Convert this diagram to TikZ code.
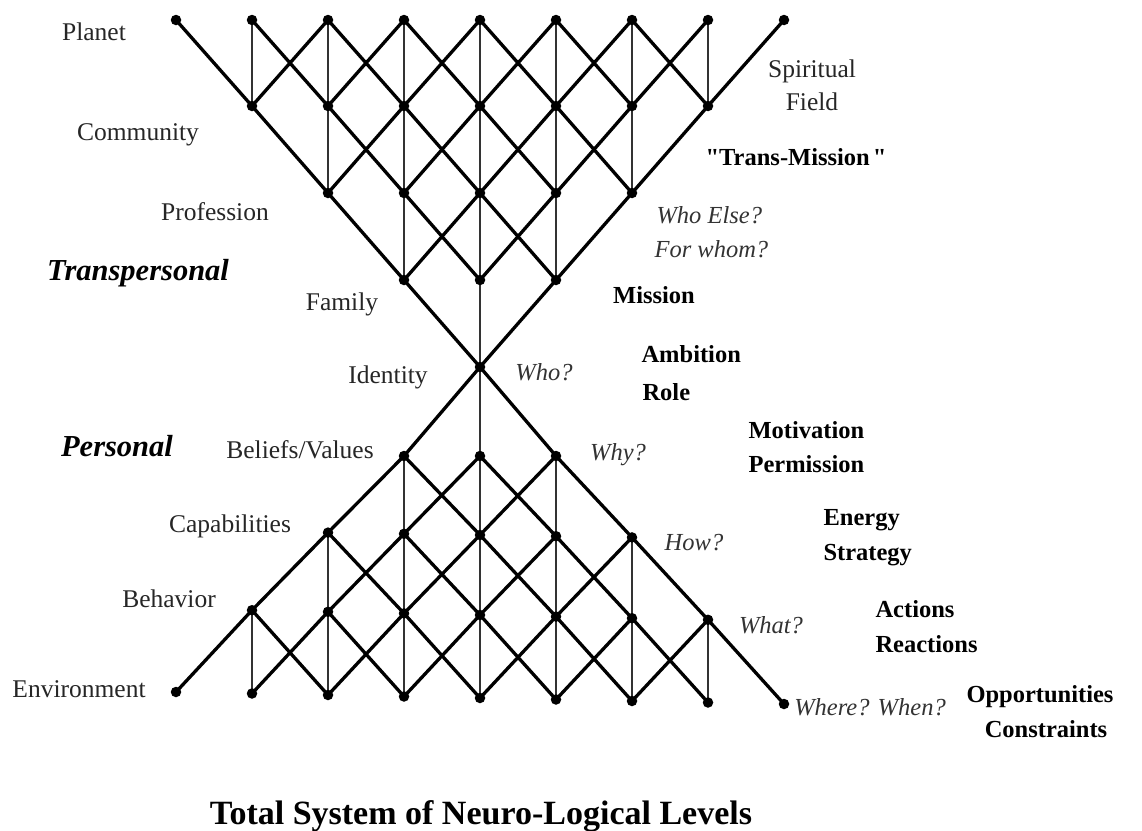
\documentclass[tikz,border=0pt]{standalone}
\usepackage{fontspec}
\setmainfont{Liberation Serif}
\pgfdeclarelayer{bg}
\pgfsetlayers{bg,main}
% straight double quote, bypassing the TeX quote mapping
\newcommand\straightdq{\XeTeXglyph\XeTeXcharglyph"22 }
\begin{document}
\begin{tikzpicture}[x=1pt,y=-1pt,
  dot/.style={circle,fill=black,inner sep=0pt,minimum size=10.5pt},
  diag/.style={line width=3.3pt,black},
  vert/.style={line width=2pt,black!80},
  lbl/.style={font=\fontsize{25.5}{30}\selectfont,text=black!85,anchor=base},
  qst/.style={font=\fontsize{24.5}{30}\selectfont\itshape,text=black!80,anchor=base},
  key/.style={font=\fontsize{24.5}{30}\selectfont\bfseries,text=black,anchor=base},
  realm/.style={font=\fontsize{30.5}{34}\selectfont\bfseries\itshape,text=black,anchor=base},
  heading/.style={font=\fontsize{34}{40}\selectfont\bfseries,text=black,anchor=base},
]
\useasboundingbox (0,0) rectangle (1142,830);

% upper cone: level r holds positions r..8-r, level 4 is the waist
\foreach \r in {0,...,4} {
  \pgfmathtruncatemacro\lo{\r}
  \pgfmathtruncatemacro\hi{8-\r}
  \pgfmathsetmacro\yy{{20,106,193,280,367}[\r]}
  \foreach \p in {\lo,...,\hi}
    \node[dot] (u\p-\r) at ({176+76*\p},\yy) {};
}
\path (u4-4) coordinate (l4-4);

% lower cone: level s counted from the bottom, level 4 is the waist
\foreach \s in {0,...,3} {
  \pgfmathtruncatemacro\lo{\s}
  \pgfmathtruncatemacro\hi{8-\s}
  \pgfmathsetmacro\yb{{698,615,535,456}[\s]}
  \pgfmathsetmacro\kk{{1.5,1.6,1.2,0}[\s]}
  \foreach \p in {\lo,...,\hi}
    \node[dot] (l\p-\s) at ({176+76*\p},{\yb+\kk*(\p-4)}) {};
}

% lattice links, kept beneath the dots
\begin{pgfonlayer}{bg}
\fill[white] (0,0) rectangle (1142,830);
\foreach \r in {0,...,3} {
  \pgfmathtruncatemacro\lo{\r}
  \pgfmathtruncatemacro\hi{8-\r}
  \pgfmathtruncatemacro\nx{\r+1}
  \foreach \p in {\lo,...,\hi} {
    \pgfmathtruncatemacro\pl{\p-1}
    \pgfmathtruncatemacro\pr{\p+1}
    % upper cone
    \ifnum\p>\r \ifnum\p<\hi \draw[vert] (u\p-\r.center) -- (u\p-\nx.center); \fi\fi
    \ifnum\pl>\r \draw[diag] (u\p-\r.center) -- (u\pl-\nx.center); \fi
    \ifnum\pr<\hi \draw[diag] (u\p-\r.center) -- (u\pr-\nx.center); \fi
    % lower cone
    \ifnum\p>\r \ifnum\p<\hi \draw[vert] (l\p-\r.center) -- (l\p-\nx.center); \fi\fi
    \ifnum\pl>\r \draw[diag] (l\p-\r.center) -- (l\pl-\nx.center); \fi
    \ifnum\pr<\hi \draw[diag] (l\p-\r.center) -- (l\pr-\nx.center); \fi
  }
}
\end{pgfonlayer}

% level names on the left
\node[lbl] (planet) at (94,40) {Planet};
\node[lbl] (community) at (138,140) {Community};
\node[lbl] (profession) at (215,220) {Profession};
\node[realm] (transpersonal) at (138,280) {Transpersonal};
\node[lbl] (family) at (342,310) {Family};
\node[lbl] (identity) at (388,383) {Identity};
\node[realm] (personal) at (117,456) {Personal};
\node[lbl] (beliefs) at (300,458) {Beliefs/Values};
\node[lbl] (capabilities) at (230,532) {Capabilities};
\node[lbl] (behavior) at (169,607) {Behavior};
\node[lbl] (environment) at (79,697) {Environment};

% questions and qualities on the right
\node[lbl] (spiritual) at (812,77) {Spiritual};
\node[lbl] (field) at (812,110) {Field};
\node[key] (transmission) at (796,165) {\straightdq Trans-Mission\hspace{0.12em}\straightdq};
\node[qst,anchor=base west] (whoelse) at (653,223) {Who Else?};
\node[qst,anchor=base west] (forwhom) at (651,257) {For whom?};
\node[key] (mission) at (654,303) {Mission};
\node[qst] (who) at (544,380) {Who?};
\node[key,anchor=base west] (ambition) at (638,362) {Ambition};
\node[key,anchor=base west] (role) at (639,400) {Role};
\node[qst] (why) at (618,460) {Why?};
\node[key,anchor=base west] (motivation) at (745,438) {Motivation};
\node[key,anchor=base west] (permission) at (745,472) {Permission};
\node[qst] (how) at (694,550) {How?};
\node[key,anchor=base west] (energy) at (820,525) {Energy};
\node[key,anchor=base west] (strategy) at (820,560) {Strategy};
\node[qst] (what) at (771,633) {What?};
\node[key,anchor=base west] (actions) at (872,617) {Actions};
\node[key,anchor=base west] (reactions) at (872,652) {Reactions};
\node[qst] (where) at (870,715) {Where? When?};
\node[key] (opportunities) at (1040,702) {Opportunities};
\node[key] (constraints) at (1046,737) {Constraints};

\node[heading] (title) at (481,824) {Total System of Neuro-Logical Levels};
\end{tikzpicture}
\end{document}
